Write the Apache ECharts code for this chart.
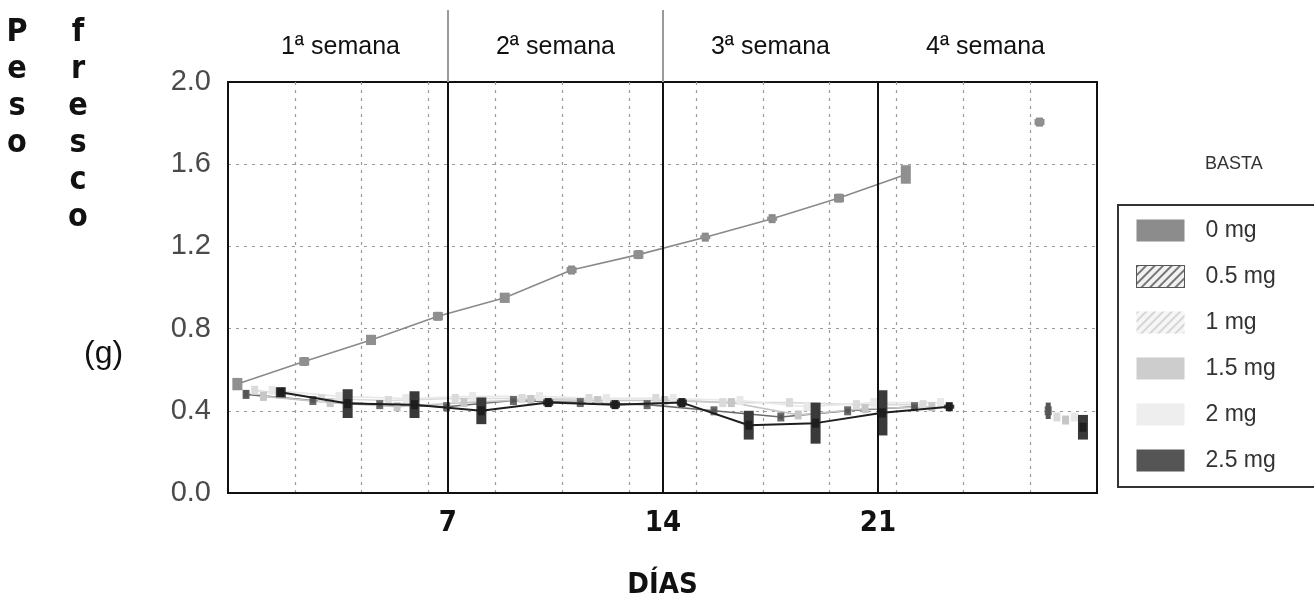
<!DOCTYPE html>
<html><head><meta charset="utf-8">
<script src="https://cdn.jsdelivr.net/npm/echarts@6/dist/echarts.min.js"></script>
<style>html,body{margin:0;padding:0;background:#fff}#c{width:1314px;height:609px}</style>
</head><body><div id="c"></div>
<script>
// ---- data ----
const sampleIdx = [0, 1, 2, 3, 4, 5, 6, 7, 8, 9, 10, 11, 12];
const doses = ['0 mg', '0.5 mg', '1 mg', '1.5 mg', '2 mg', '2.5 mg'];
const mg0    = [0.53, 0.64, 0.745, 0.86, 0.95, 1.085, 1.16, 1.245, 1.335, 1.435, 1.55, null, 1.805];
const mg0Err = [0.03, 0.02, 0.025, 0.02, 0.025, 0.015, 0.02, 0.01, 0.01, 0.02, 0.045, null, 0.015];
const mg05   = [0.48, 0.45, 0.43, 0.42, 0.45, 0.44, 0.43, 0.40, 0.37, 0.40, 0.42, null, 0.40];
const mg05Err= [0.02, 0.01, 0.01, 0.01, 0.01, 0.01, 0.01, 0.01, 0.01, 0.01, 0.01, null, 0.04];
const mg1    = [0.50, 0.46, 0.45, 0.46, 0.46, 0.46, 0.46, 0.44, 0.44, 0.43, 0.43, null, 0.37];
const mg15   = [0.47, 0.44, 0.42, 0.44, 0.455, 0.45, 0.45, 0.44, 0.38, 0.41, 0.42, null, 0.355];
const mg2    = [0.50, 0.47, 0.46, 0.47, 0.47, 0.46, 0.46, 0.45, 0.42, 0.44, 0.44, null, 0.37];
const mg25   = [0.49, 0.435, 0.43, 0.40, 0.44, 0.43, 0.44, 0.33, 0.34, 0.39, 0.42, null, 0.32];
const mg25Err= [0.025, 0.07, 0.065, 0.065, 0.015, 0.015, 0.015, 0.07, 0.10, 0.11, 0.01, null, 0.06];
const dayTicks = [7, 14, 21];
const weekCenters = [3.5, 10.5, 17.5, 24.5];
const weekLabels = ['1ª semana', '2ª semana', '3ª semana', '4ª semana'];
const weekDividers = [7, 14];

// ---- styles ----
const colors = ['#8a8a8a', '#6a6a6a', '#dadada', '#c6c6c6', '#e8e8e8', '#1e1e1e'];
const means = [mg0, mg05, mg1, mg15, mg2, mg25];
const dodge = k => 0.14 + k * 0.13;
const narrow = '"Liberation Sans Narrow", "DejaVu Sans Condensed", "DejaVu Sans", sans-serif';
const sans = '"Liberation Sans", Arial, sans-serif';

function pts(vals, k) {
  return sampleIdx.map((s, i) => [s + dodge(k), vals[i] == null ? null : vals[i]]);
}
function errData(vals, errs, k) {
  return sampleIdx.filter((s, i) => vals[i] != null)
    .map(s => { const i = sampleIdx.indexOf(s); return [s + dodge(k), vals[i] - errs[i], vals[i] + errs[i]]; });
}
function errSeries(vals, errs, k, w, col) {
  return {
    type: 'custom', name: 'err' + k, xAxisIndex: 1, yAxisIndex: 0, z: 4,
    data: errData(vals, errs, k), encode: { x: 0, y: [1, 2] },
    renderItem(params, api) {
      const x = api.value(0), lo = api.value(1), hi = api.value(2);
      const a = api.coord([x, hi]), b = api.coord([x, lo]);
      return { type: 'rect', shape: { x: a[0] - w / 2, y: a[1], width: w, height: Math.max(2, b[1] - a[1]) }, style: { fill: col } };
    }
  };
}

const series = [];
means.forEach((vals, k) => {
  series.push({
    type: 'line', name: doses[k], xAxisIndex: 1, yAxisIndex: 0, data: pts(vals, k),
    connectNulls: false, symbol: 'rect', symbolSize: [7, 9], z: k === 5 ? 6 : 3,
    itemStyle: { color: colors[k] }, lineStyle: { color: colors[k], width: k === 5 ? 2 : 1.6 },
    emphasis: { disabled: true }
  });
});
series.push(errSeries(mg0, mg0Err, 0, 10, '#8f8f8f'));
series.push(errSeries(mg05, mg05Err, 1, 5, '#555'));
series.push(errSeries(mg25, mg25Err, 5, 10, '#3a3a3a'));
series.push({
  type: 'line', name: 'weeks', xAxisIndex: 0, yAxisIndex: 0, data: [],
  markLine: { symbol: 'none', silent: true, label: { show: false },
    lineStyle: { color: '#111', width: 2, type: 'solid' },
    data: dayTicks.map(d => ({ xAxis: d })) }
});

const dotted = { show: true, showMinLine: false, showMaxLine: false, lineStyle: { color: '#9a9a9a', type: [3, 5], width: 1.2 } };
const chart = echarts.init(document.getElementById('c'));
chart.setOption({
  animation: false,
  backgroundColor: '#fff',
  grid: { left: 228, right: 217, top: 82, bottom: 116, show: true, borderColor: '#111', borderWidth: 2, backgroundColor: 'transparent' },
  xAxis: [
    { type: 'value', min: -0.16, max: 28.13, position: 'bottom',
      axisLine: { show: true, onZero: false, lineStyle: { color: '#111', width: 2 } },
      axisTick: { show: false }, splitLine: { show: false },
      axisLabel: { customValues: dayTicks, fontFamily: narrow, fontWeight: 'bold condensed', fontSize: 29, color: '#111', margin: 16 },
      name: 'DÍAS', nameLocation: 'middle', nameGap: 78,
      nameTextStyle: { fontFamily: narrow, fontWeight: 'bold condensed', fontSize: 29, color: '#111' } },
    { type: 'value', min: 0, max: 13, interval: 1, position: 'bottom',
      axisLine: { show: false }, axisTick: { show: false }, axisLabel: { show: false }, splitLine: dotted },
    { type: 'value', min: -0.16, max: 28.13, position: 'top',
      axisLine: { show: false }, splitLine: { show: false },
      axisTick: { show: true, customValues: weekDividers, length: 72, inside: false, lineStyle: { color: '#9a9a9a', width: 2 } },
      axisLabel: { customValues: weekCenters, formatter: v => weekLabels[weekCenters.indexOf(v)] || '',
        fontFamily: sans, fontSize: 25, color: '#111', margin: 22 } }
  ],
  yAxis: [{ type: 'value', min: 0, max: 2, interval: 0.4,
    axisLine: { show: true, onZero: false, lineStyle: { color: '#111', width: 2 } }, axisTick: { show: false },
    axisLabel: { formatter: v => v.toFixed(1), fontFamily: sans, fontSize: 29, color: '#4a4a4a', margin: 17 },
    splitLine: dotted }],
  legend: {
    orient: 'vertical', left: 1118, top: 205, padding: [14, 120, 15, 18],
    borderColor: '#333', borderWidth: 2, itemWidth: 48, itemHeight: 22, itemGap: 23,
    icon: 'rect', selectedMode: false,
    textStyle: { fontFamily: sans, fontSize: 23, color: '#333', padding: [0, 0, 0, 16] },
    data: [
      { name: '0 mg', itemStyle: { color: '#8c8c8c' } },
      { name: '0.5 mg', itemStyle: { color: '#f2f2f2', borderColor: '#555', borderWidth: 1,
          decal: { symbol: 'rect', color: '#777', dashArrayX: [1, 0], dashArrayY: [2, 4], rotation: -Math.PI / 4 } } },
      { name: '1 mg', itemStyle: { color: '#f6f6f6',
          decal: { symbol: 'rect', color: '#d6d6d6', dashArrayX: [1, 0], dashArrayY: [2, 4], rotation: -Math.PI / 4 } } },
      { name: '1.5 mg', itemStyle: { color: '#cdcdcd' } },
      { name: '2 mg', itemStyle: { color: '#eeeeee' } },
      { name: '2.5 mg', itemStyle: { color: '#555555' } }
    ]
  },
  graphic: [
    { type: 'text', x: 17, y: 14, style: { text: 'P\ne\ns\no', font: '900 condensed 32px ' + narrow, lineHeight: 37, align: 'center', fill: '#111' } },
    { type: 'text', x: 78, y: 14, style: { text: 'f\nr\ne\ns\nc\no', font: '900 condensed 32px ' + narrow, lineHeight: 37, align: 'center', fill: '#111' } },
    { type: 'text', x: 84, y: 338, style: { text: '(g)', font: '32px ' + sans, fill: '#111' } },
    { type: 'text', x: 1205, y: 155, style: { text: 'BASTA', font: '18px ' + sans, fill: '#333' } }
  ],
  series
});
</script></body></html>
